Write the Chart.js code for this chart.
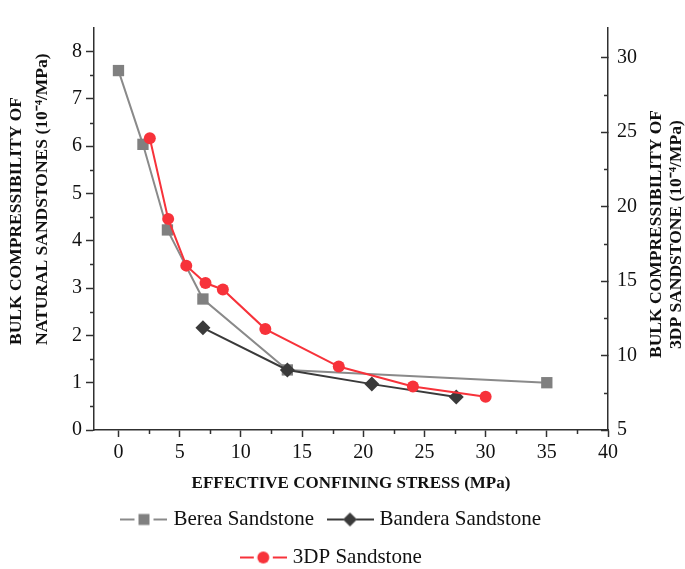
<!DOCTYPE html>
<html>
<head>
<meta charset="utf-8">
<script src="https://cdn.jsdelivr.net/npm/chart.js@4/dist/chart.umd.min.js"></script>
<style>
  html, body { margin: 0; padding: 0; background: #ffffff; }
  #wrap { width: 685px; height: 569px; }
</style>
</head>
<body>
<div id="wrap"><canvas id="c" width="685" height="569"></canvas></div>
<script>
// ---- data ----
const stressBerea   = [0, 2.0, 4.0, 6.9, 13.8, 35.0];
const bereaValues   = [7.60, 6.04, 4.23, 2.77, 1.27, 1.00];
const stressBandera = [6.9, 13.8, 20.7, 27.6];
const banderaValues = [2.16, 1.27, 0.97, 0.70];
const stress3DP     = [2.56, 4.06, 5.54, 7.11, 8.53, 12.0, 18.0, 24.06, 30.0];
const values3DP     = [24.6, 19.18, 16.04, 14.87, 14.44, 11.78, 9.26, 7.92, 7.24];

const seriesNames = ['Berea Sandstone', 'Bandera Sandstone', '3DP Sandstone'];

const xTickValues   = [0, 5, 10, 15, 20, 25, 30, 35, 40];
const xMinorValues  = [2.5, 7.5, 12.5, 17.5, 22.5, 27.5, 32.5, 37.5];
const yTickValues   = [0, 1, 2, 3, 4, 5, 6, 7, 8];
const yMinorValues  = [0.5, 1.5, 2.5, 3.5, 4.5, 5.5, 6.5, 7.5];
const y2TickValues  = [5, 10, 15, 20, 25, 30];
const y2MinorValues = [7.5, 12.5, 17.5, 22.5, 27.5];

const xTitle = 'EFFECTIVE CONFINING STRESS (MPa)';
const yTitleLines  = ['BULK COMPRESSIBILITY OF', 'NATURAL SANDSTONES (10\u207B\u2074/MPa)'];
const y2TitleLines = ['BULK COMPRESSIBILITY OF', '3DP SANDSTONE (10\u207B\u2074/MPa)'];

// ---- styles ----
const FONT = '"Liberation Serif", "Times New Roman", serif';
const AXIS = '#303030';
const TEXT = '#111111';
const GRAY = '#808080';
const GRAY_LINE = '#8a8a8a';
const DARK = '#3a3a3a';
const RED = '#f7323a';

function toPoints(xs, ys) { return xs.map((x, i) => ({ x: x, y: ys[i] })); }

// legend icons: line - marker - line
function makeIcon(kind, color, lineColor) {
  const cv = document.createElement('canvas');
  cv.width = 47; cv.height = 16;
  const g = cv.getContext('2d');
  g.strokeStyle = lineColor; g.lineWidth = 2;
  g.beginPath(); g.moveTo(0, 8); g.lineTo(14, 8); g.moveTo(33, 8); g.lineTo(47, 8); g.stroke();
  g.fillStyle = color;
  g.beginPath();
  if (kind === 'square') { g.rect(18, 2.5, 11, 11); }
  else if (kind === 'diamond') { g.moveTo(23.5, 1); g.lineTo(30.5, 8); g.lineTo(23.5, 15); g.lineTo(16.5, 8); g.closePath(); }
  else { g.arc(23.5, 8, 6, 0, Math.PI * 2); }
  g.fill();
  if (kind === 'diamond') { g.beginPath(); g.moveTo(14, 8); g.lineTo(17, 8); g.moveTo(30, 8); g.lineTo(33, 8); g.strokeStyle = lineColor; g.stroke(); }
  return cv;
}
const legendIcons = [
  makeIcon('square', GRAY, GRAY_LINE),
  makeIcon('diamond', DARK, DARK),
  makeIcon('circle', RED, RED)
];

const minorTicks = {
  id: 'minorTicks',
  afterDraw(chart) {
    const ctx = chart.ctx;
    const sx = chart.scales.x, sy = chart.scales.y, sy2 = chart.scales.y2;
    ctx.save();
    ctx.strokeStyle = AXIS; ctx.lineWidth = 1.5;
    ctx.beginPath();
    xMinorValues.forEach(v => { const p = Math.round(sx.getPixelForValue(v)) + 0.5; ctx.moveTo(p, sx.top); ctx.lineTo(p, sx.top + 4); });
    yMinorValues.forEach(v => { const p = Math.round(sy.getPixelForValue(v)) + 0.5; ctx.moveTo(sy.right, p); ctx.lineTo(sy.right - 4, p); });
    y2MinorValues.forEach(v => { const p = Math.round(sy2.getPixelForValue(v)) + 0.5; ctx.moveTo(sy2.left, p); ctx.lineTo(sy2.left - 4, p); });
    ctx.stroke();
    ctx.restore();
  }
};

const sideTitles = {
  id: 'sideTitles',
  afterDraw(chart) {
    const ctx = chart.ctx;
    ctx.save();
    ctx.fillStyle = TEXT;
    ctx.font = 'bold 17.5px ' + FONT;
    ctx.textAlign = 'left';
    ctx.textBaseline = 'middle';
    const put = (txt, x, y) => {
      ctx.save(); ctx.translate(x, y); ctx.rotate(-Math.PI / 2); ctx.fillText(txt, 0, 0); ctx.restore();
    };
    put(yTitleLines[0], 16, 345);
    put(yTitleLines[1], 42, 345);
    put(y2TitleLines[0], 656, 358);
    put(y2TitleLines[1], 676, 349);
    ctx.restore();
  }
};

const legendShift = {
  id: 'legendShift',
  afterLayout(chart) {
    const lg = chart.legend;
    if (!lg) return;
    const w = lg.right - lg.left;
    const c = (chart.chartArea.left + chart.chartArea.right) / 2 - 18;
    lg.left = c - w / 2;
    lg.right = c + w / 2;
  }
};

const tickFont = { family: FONT, size: 20 };

new Chart(document.getElementById('c'), {
  type: 'line',
  data: {
    datasets: [
      {
        label: seriesNames[0],
        data: toPoints(stressBerea, bereaValues),
        yAxisID: 'y',
        borderColor: GRAY_LINE, backgroundColor: GRAY,
        pointBackgroundColor: GRAY, pointBorderColor: GRAY,
        borderWidth: 2, pointStyle: 'rect', pointRadius: 8, pointBorderWidth: 0,
        tension: 0, order: 3
      },
      {
        label: seriesNames[1],
        data: toPoints(stressBandera, banderaValues),
        yAxisID: 'y',
        borderColor: DARK, backgroundColor: DARK,
        pointBackgroundColor: DARK, pointBorderColor: DARK,
        borderWidth: 2, pointStyle: 'rectRot', pointRadius: 7.5, pointBorderWidth: 0,
        tension: 0, order: 2
      },
      {
        label: seriesNames[2],
        data: toPoints(stress3DP, values3DP),
        yAxisID: 'y2',
        borderColor: RED, backgroundColor: RED,
        pointBackgroundColor: RED, pointBorderColor: RED,
        borderWidth: 2, pointStyle: 'circle', pointRadius: 6, pointBorderWidth: 0,
        tension: 0, order: 1
      }
    ]
  },
  options: {
    responsive: false,
    animation: false,
    devicePixelRatio: 1,
    layout: { padding: { top: 7, left: 0, right: 0, bottom: 0 } },
    plugins: {
      tooltip: { enabled: false },
      legend: {
        position: 'bottom',
        fullSize: false,
        maxHeight: 77,
        labels: {
          font: { family: FONT, size: 21 },
          color: TEXT,
          usePointStyle: true,
          pointStyleWidth: 38,
          padding: 17,
          generateLabels(chart) {
            const items = Chart.defaults.plugins.legend.labels.generateLabels(chart);
            items.sort((a, b) => a.datasetIndex - b.datasetIndex);
            items.forEach(it => { it.pointStyle = legendIcons[it.datasetIndex]; it.lineWidth = 0; });
            return items;
          }
        }
      }
    },
    scales: {
      x: {
        type: 'linear', position: 'bottom',
        min: -2, max: 40,
        afterBuildTicks: s => { s.ticks = xTickValues.map(v => ({ value: v })); },
        afterFit: s => { s.height = 62; },
        ticks: { font: tickFont, color: TEXT, padding: 4, maxRotation: 0, autoSkip: false },
        grid: { drawOnChartArea: false, drawTicks: true, tickLength: 7, tickColor: AXIS, tickWidth: 1.5 },
        border: { color: AXIS, width: 1.5 },
        title: { display: true, text: xTitle, color: TEXT, font: { family: FONT, size: 17, weight: 'bold' }, padding: { top: 0, bottom: -2 } }
      },
      y: {
        type: 'linear', position: 'left',
        min: 0, max: 8.5,
        afterBuildTicks: s => { s.ticks = yTickValues.map(v => ({ value: v })); },
        afterFit: s => { s.width = 94; },
        ticks: { font: tickFont, color: TEXT, padding: 4, autoSkip: false },
        grid: { drawOnChartArea: false, drawTicks: true, tickLength: 8, tickColor: AXIS, tickWidth: 1.5 },
        border: { color: AXIS, width: 1.5 }
      },
      y2: {
        type: 'linear', position: 'right',
        min: 5, max: 32,
        afterBuildTicks: s => { s.ticks = y2TickValues.map(v => ({ value: v })); },
        afterFit: s => { s.width = 77; },
        ticks: { font: tickFont, color: TEXT, padding: 16, autoSkip: false },
        grid: { drawOnChartArea: false, drawTicks: true, tickLength: -7, tickColor: AXIS, tickWidth: 1.5 },
        border: { color: AXIS, width: 1.5 }
      }
    }
  },
  plugins: [minorTicks, sideTitles, legendShift]
});
</script>
</body>
</html>
